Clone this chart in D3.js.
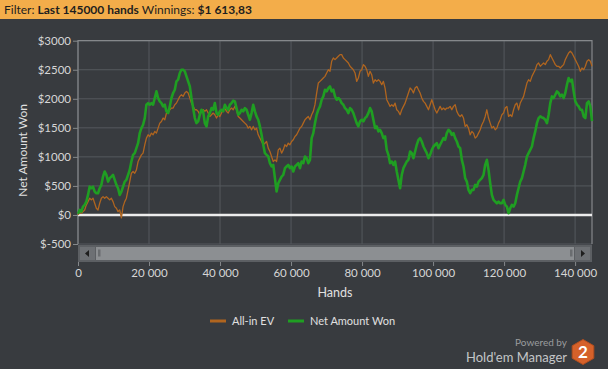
<!DOCTYPE html>
<html><head><meta charset="utf-8">
<script src="https://cdn.jsdelivr.net/npm/d3@7"></script>
<style>
html,body{margin:0;padding:0;background:#383b3f;}
svg{display:block;font-family:"Lato","Liberation Sans",sans-serif;}
</style></head><body>
<svg id="c" width="608" height="369"></svg>
<script>
// ---- data ----
const handsStep = 470; // hands between consecutive samples
const yTicks = [-500, 0, 500, 1000, 1500, 2000, 2500, 3000];
const xTicks = [0, 20000, 40000, 60000, 80000, 100000, 120000, 140000];
const seriesNames = ["All-in EV", "Net Amount Won"];
const allInEV = [
0,46,29,58,86,173,230,288,259,288,201,115,86,201,288,316,288,316,288,259,
288,230,144,115,58,86,-50,144,230,288,431,575,719,748,719,776,920,978,1035,1064,
1208,1323,1380,1351,1409,1380,1438,1409,1495,1581,1610,1668,1639,1754,1754,1811,1840,1840,1898,1926,
1984,2041,2070,2041,2099,2128,2099,2013,1926,1869,1811,1811,1783,1725,1783,1811,
1783,1811,1754,1696,1725,1754,1725,1668,1725,1696,1754,1811,1840,1783,1754,1811,1840,1811,1869,1811,
1696,1668,1639,1610,1581,1553,1495,1524,1466,1524,1466,1495,1380,1323,1265,1208,1236,1265,1150,1093,
1006,920,949,920,1121,1150,1064,1121,1208,1179,1236,1208,1265,1294,1351,1380,1438,1495,1524,1581,
1639,1668,1696,1639,1725,1783,1898,2099,2271,2300,2329,2358,2386,2444,2501,2473,
2645,2703,2674,2703,2731,2760,2760,2703,2674,2645,2616,2559,2530,2501,2444,2300,2358,2473,2501,2588,
2559,2501,2386,2473,2415,2271,2329,2300,2329,2300,2243,2300,2185,1984,1926,1869,1898,1869,1926,1811,
1783,1725,1811,1869,1926,2013,2099,2185,2156,2099,2185,2214,2156,2099,2013,1955,1926,1869,1811,1898,
1984,1898,1811,1754,1811,1869,1811,1840,1811,1840,1840,1869,1811,1869,1898,1783,1725,
1696,1725,1668,1524,1553,1495,1380,1438,1409,1323,1351,1409,1466,1553,1610,1696,1811,1668,1581,1495,
1524,1466,1495,1581,1639,1725,1754,1840,1869,1696,1725,1696,1811,1898,1926,1811,1926,1984,2041,2156,
2271,2329,2300,2386,2444,2501,2588,2616,2559,2588,2616,2588,2645,2674,2760,2703,2645,2588,2559,2559,
2530,2559,2588,2674,2731,2789,2818,2789,2731,2674,2616,2559,2473,2530,2501,2559,2645,2674,2645,2559
];
const netWon = [
20,86,58,144,173,230,345,489,460,489,403,374,374,460,518,661,748,690,575,633,
661,690,604,518,460,345,403,489,575,604,690,776,920,1035,1064,1150,1236,1409,1495,1553,
1668,1898,1926,1898,1926,1898,2013,2128,2013,1955,1926,1869,1898,1783,1754,1869,2013,2099,2156,2300,
2329,2444,2501,2501,2473,2386,2300,2214,2013,1840,1668,1581,1610,1725,1811,1783,
1581,1524,1696,1754,1840,1811,1926,1754,1725,1783,1811,1783,1898,1840,1811,1898,1926,1967,1955,1840,
1725,1754,1811,1783,1840,1811,1725,1639,1754,1898,1783,1696,1639,1524,1380,1208,1064,1035,1006,891,
834,863,633,403,546,604,661,690,805,834,863,805,834,748,834,863,891,805,920,891,
1006,978,891,949,1323,1409,1581,1725,1811,1869,1984,2041,2156,2128,2185,2214,
2128,2156,2041,1984,2013,1984,1926,1898,1840,1811,1754,1840,1811,1754,1668,1581,1524,1610,1639,1610,
1668,1696,1754,1840,1783,1639,1495,1524,1438,1466,1409,1323,1351,1121,1035,891,920,863,920,748,
604,460,690,805,863,920,949,1093,1064,978,1093,1208,1294,1323,1265,1179,1121,1064,978,1035,
1121,1179,1208,1236,1150,1208,1265,1323,1294,1409,1466,1438,1380,1409,1323,1265,1179,
1150,949,834,633,575,431,374,431,431,518,489,575,604,633,690,863,949,776,546,345,
259,230,201,230,201,201,259,173,144,29,115,173,144,201,345,460,575,633,748,863,
1006,1064,1121,1179,1323,1438,1581,1668,1696,1679,1668,1639,1581,1725,1926,2041,2013,2070,2128,2099,
2041,2070,2013,2099,2243,2358,2300,2329,2128,1955,1898,1869,1811,1811,1696,1668,1926,1955,1869,1614
];
const filterText = ["Filter: ", "Last 145000 hands", " Winnings: ", "$1 613,83"];

// ---- layout ----
const svg = d3.select("#c");
const W = 608, H = 369;
const L = 78, R = 592, T = 40.7, B = 244;
const colors = {ev: "#b0651f", net: "#1f9e22"};

svg.append("rect").attr("width", W).attr("height", H).attr("fill", "#383b3f");

// header
svg.append("rect").attr("x", 0).attr("y", 0).attr("width", W).attr("height", 19).attr("fill", "#f3ad4a");
const ht = svg.append("text").attr("x", 4).attr("y", 14).attr("font-size", 12).attr("fill", "#1e1e1e")
  .attr("font-family", "Lato, sans-serif");
filterText.forEach((t, i) => {
  ht.append("tspan").text(t).attr("font-weight", i % 2 ? "bold" : "normal").attr("xml:space", "preserve");
});

const n = netWon.length;
const hands = d3.range(n).map(i => i * handsStep);
const x = d3.scaleLinear().domain([0, hands[n - 1]]).range([L, R]);
const y = d3.scaleLinear().domain([-500, 3000]).range([B, T]);

// grid
const g = svg.append("g");
g.selectAll(".hg").data(yTicks).join("line")
  .attr("x1", L).attr("x2", R).attr("y1", d => y(d)).attr("y2", d => y(d))
  .attr("stroke", "#55595e").attr("stroke-width", 1);
g.selectAll(".vg").data(xTicks).join("line")
  .attr("x1", d => x(d)).attr("x2", d => x(d)).attr("y1", T).attr("y2", B)
  .attr("stroke", "#55595e").attr("stroke-width", 1);
// border
g.append("path").attr("d", `M${L},${B}V${T}H${R}V${B}`).attr("fill", "none")
  .attr("stroke", "#85888b").attr("stroke-width", 1.2);

// zero line
g.append("line").attr("x1", L).attr("x2", R).attr("y1", y(0)).attr("y2", y(0))
  .attr("stroke", "#ececec").attr("stroke-width", 2.6);

// series
const line = d3.line().x((d, i) => x(hands[i])).y(d => y(d));
g.append("path").datum(allInEV).attr("d", line).attr("fill", "none")
  .attr("stroke", colors.ev).attr("stroke-width", 1.3).attr("stroke-linejoin", "round");
g.append("path").datum(netWon).attr("d", line).attr("fill", "none")
  .attr("stroke", colors.net).attr("stroke-width", 2.6).attr("stroke-linejoin", "round");

// y axis
const yAxis = svg.append("g").attr("transform", `translate(${L},0)`)
  .call(d3.axisLeft(y).tickValues(yTicks).tickSize(5).tickPadding(2)
    .tickFormat(d => "$" + d));
yAxis.select(".domain").remove();
yAxis.selectAll("line").attr("stroke", "#85888b");
yAxis.selectAll("text").attr("fill", "#d6d6d6").attr("font-size", 11.5).attr("font-family", "Lato, sans-serif");

svg.append("text").attr("transform", `translate(27,${(T + B) / 2 + 8}) rotate(-90)`)
  .attr("text-anchor", "middle").attr("fill", "#e0e0e0").attr("font-size", 12)
  .text("Net Amount Won");

// scrollbar
const sb = svg.append("g");
sb.append("rect").attr("x", L).attr("y", 245).attr("width", R - L).attr("height", 17).attr("fill", "#5c5f63");
sb.append("rect").attr("x", L + 2).attr("y", 247).attr("width", 15).attr("height", 13).attr("fill", "#6d7074");
sb.append("rect").attr("x", R - 17).attr("y", 247).attr("width", 15).attr("height", 13).attr("fill", "#6d7074");
sb.append("rect").attr("x", L + 18).attr("y", 247).attr("width", R - L - 36).attr("height", 13).attr("fill", "#8c8f92");
sb.append("rect").attr("x", L + 20).attr("y", 249.5).attr("width", 2.5).attr("height", 7).attr("fill", "#6a6d70");
sb.append("rect").attr("x", R - 22).attr("y", 249.5).attr("width", 2.5).attr("height", 7).attr("fill", "#6a6d70");
sb.append("path").attr("d", `M${L + 7},253.5l4,-3.5v7z`).attr("fill", "#1e1e1e");
sb.append("path").attr("d", `M${R - 7},253.5l-4,-3.5v7z`).attr("fill", "#1e1e1e");

// x axis
const fmt = d3.formatLocale({decimal: ",", thousands: " ", grouping: [3], currency: ["$", ""]}).format(",d");
const xAxis = svg.append("g").attr("transform", `translate(0,262)`)
  .call(d3.axisBottom(x).tickValues(xTicks).tickSize(4).tickPadding(3).tickFormat(fmt));
xAxis.select(".domain").remove();
xAxis.selectAll("line").attr("stroke", "#85888b");
xAxis.selectAll("text").attr("fill", "#d6d6d6").attr("font-size", 11.5).attr("font-family", "Lato, sans-serif");

svg.append("text").attr("x", (L + R) / 2).attr("y", 297).attr("text-anchor", "middle")
  .attr("fill", "#e0e0e0").attr("font-size", 12.5).text("Hands");

// legend
const leg = svg.append("g");
[[210, colors.ev, seriesNames[0]], [288, colors.net, seriesNames[1]]].forEach(([lx, c, t]) => {
  leg.append("line").attr("x1", lx).attr("x2", lx + 16).attr("y1", 321).attr("y2", 321)
    .attr("stroke", c).attr("stroke-width", 3);
  leg.append("text").attr("x", lx + 22).attr("y", 325).attr("fill", "#e0e0e0").attr("font-size", 11).text(t);
});

// branding
svg.append("text").attr("x", 567).attr("y", 346).attr("text-anchor", "end")
  .attr("fill", "#9a9c9e").attr("font-size", 10).text("Powered by");
svg.append("text").attr("x", 567).attr("y", 362).attr("text-anchor", "end")
  .attr("fill", "#c4c6c8").attr("font-size", 13).text("Hold'em Manager");
const hx = 583, hy = 352, hr = 12.5;
const hex = d3.range(6).map(k => {
  const a = Math.PI / 3 * k - Math.PI / 2;
  return [hx + hr * Math.cos(a), hy + hr * Math.sin(a)];
});
svg.append("polygon").attr("points", hex.map(p => p.join(",")).join(" "))
  .attr("fill", "#d5612a").attr("stroke", "#b24d1e").attr("stroke-width", 1);
svg.append("text").attr("x", hx).attr("y", hy + 6).attr("text-anchor", "middle")
  .attr("fill", "#ffffff").attr("font-size", 17).attr("font-weight", "bold").text("2");
</script>
</body></html>
